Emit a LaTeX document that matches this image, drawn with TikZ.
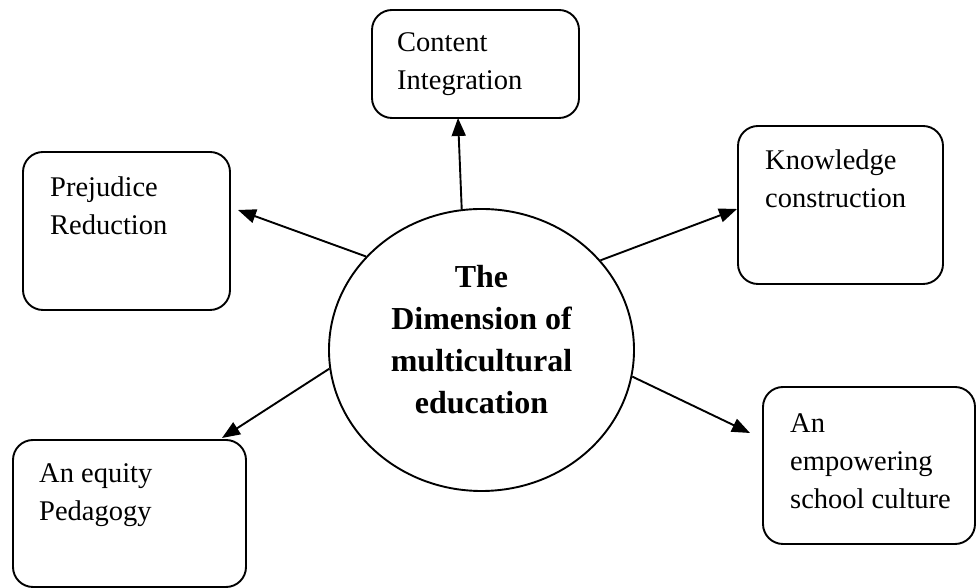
\documentclass[tikz,border=0pt]{standalone}
\usepackage{fontspec}
\setmainfont{Liberation Serif}
\usetikzlibrary{arrows.meta,shapes.geometric}
\begin{document}
\begin{tikzpicture}[x=1pt,y=1pt,
  box/.style={draw,line width=1.9pt,rounded corners=20pt,inner sep=0pt},
  lbl/.style={anchor=base west,inner sep=0pt,font=\fontsize{28.5}{38}\selectfont},
  arr/.style={line width=1.9pt,-{Triangle[length=18pt,width=14pt]}}]
\useasboundingbox (0,0) rectangle (977,588);
% centre
\node[draw,ellipse,line width=1.9pt,minimum width=305pt,minimum height=282pt,inner sep=0pt] (c) at (481.5,238) {};
\node[anchor=base,inner sep=0pt,font=\fontsize{32}{42}\selectfont\bfseries] (ct) at (481.5,300)
  {\begin{tabular}[t]{@{}c@{}}The\\Dimension of\\multicultural\\education\end{tabular}};
% boxes
\node[box,minimum width=207pt,minimum height=108pt] (content) at (475.5,524) {};
\node[box,minimum width=207pt,minimum height=158pt] (prej) at (126.5,357) {};
\node[box,minimum width=205pt,minimum height=158pt] (know) at (840.5,383) {};
\node[box,minimum width=233pt,minimum height=147pt] (equity) at (129.5,74.5) {};
\node[box,minimum width=212pt,minimum height=157pt] (emp) at (869,122.5) {};
% texts
\node[lbl] (contentt) at (397,536) {\begin{tabular}[t]{@{}l@{}}Content\\Integration\end{tabular}};
\node[lbl] (prejt) at (50,391) {\begin{tabular}[t]{@{}l@{}}Prejudice\\Reduction\end{tabular}};
\node[lbl] (knowt) at (765,418) {\begin{tabular}[t]{@{}l@{}}Knowledge\\construction\end{tabular}};
\node[lbl] (equityt) at (39,105) {\begin{tabular}[t]{@{}l@{}}An equity\\Pedagogy\end{tabular}};
\node[lbl] (empt) at (790,155) {\begin{tabular}[t]{@{}l@{}}An\\empowering\\school culture\end{tabular}};
% arrow tips
\coordinate (tC) at (458,470);
\coordinate (tP) at (238,378);
\coordinate (tK) at (737,379);
\coordinate (tE) at (222,150);
\coordinate (tM) at (750,155);
% arrows
\draw[arr] (c.98.3) -- (tC);
\draw[arr] (c.141.8) -- (tP);
\draw[arr] (c.37.5) -- (tK);
\draw[arr] (c.187.5) -- (tE);
\draw[arr] (c.-10.9) -- (tM);
\end{tikzpicture}
\end{document}
